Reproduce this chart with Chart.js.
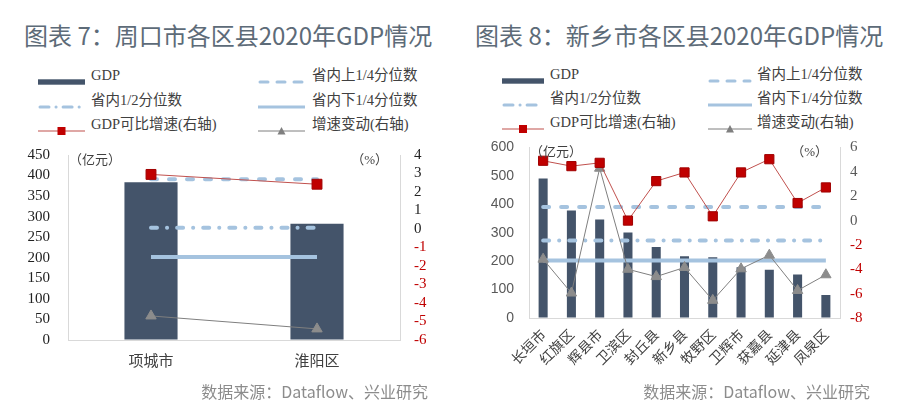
<!DOCTYPE html>
<html lang="zh">
<head>
<meta charset="UTF-8">
<title>GDP情况</title>
<script src="https://cdn.jsdelivr.net/npm/chart.js@4.4.0/dist/chart.umd.min.js"></script>
<style>
  body { margin:0; width:900px; height:413px; background:#fff; position:relative; overflow:hidden;
         font-family:"Noto Sans CJK SC", sans-serif; }
  .title { position:absolute; top:20px; font-size:24px; line-height:30px; color:#5d6b78; white-space:nowrap; }
  .src { position:absolute; top:381px; font-size:16px; line-height:20px; color:#8c8c8c; white-space:nowrap; }
  .leg { position:absolute; height:20px; line-height:20px; white-space:nowrap;
         font-family:"Liberation Serif", "Noto Sans CJK SC", serif; font-size:14.5px; color:#404040; }
  .sym { position:absolute; }
  canvas { position:absolute; }
</style>
</head>
<body>
<div class="title" style="left:24px">图表 7：周口市各区县2020年GDP情况</div>
<div class="title" style="left:475px">图表 8：新乡市各区县2020年GDP情况</div>
<div id="legends"></div>
<canvas id="zk" width="450" height="240" style="left:0;top:145px"></canvas>
<canvas id="xx" width="450" height="250" style="left:450px;top:140px"></canvas>
<div class="src" style="right:472px">数据来源：Dataflow、兴业研究</div>
<div class="src" style="right:30px">数据来源：Dataflow、兴业研究</div>
<script>
// 周口市
const zkCats = ['项城市', '淮阳区'];
const zkGdp = [384, 283];
const zkGrowth = [2.95, 2.42];
const zkChange = [-4.7, -5.4];

// 新乡市
const xxCats = ['长垣市', '红旗区', '辉县市', '卫滨区', '封丘县', '新乡县', '牧野区', '卫辉市', '获嘉县', '延津县', '凤泉区'];
const xxGdp = [491, 378, 347, 301, 250, 217, 214, 179, 170, 153, 81];
const xxGrowth = [4.91, 4.47, 4.74, 0.0, 3.24, 3.95, 0.35, 3.95, 5.04, 1.44, 2.72];
const xxChange = [-3.17, -5.95, 4.3, -4.0, -4.6, -3.85, -6.55, -3.96, -2.84, -5.74, -4.45];

// 省内分位数（亿元）
const qUpper = 391;
const qMedian = 273;
const qLower = 202;

const legendItems = [
  ['bar', 'GDP'], ['upper', '省内上1/4分位数'],
  ['median', '省内1/2分位数'], ['lower', '省内下1/4分位数'],
  ['growth', 'GDP可比增速(右轴)'], ['change', '增速变动(右轴)']
];

const BAR = '#44546a', QCOL = '#a5c3df', RED = '#c00000', GRAY = '#8c8c8c';

function symbolSvg(kind, w) {
  const h = 12, m = h / 2;
  let s = '';
  if (kind == 'bar') s = `<rect x="0" y="${m-2.7}" width="${w}" height="5.4" fill="${BAR}"/>`;
  if (kind == 'upper') s = `<line x1="2" y1="${m}" x2="${w-2}" y2="${m}" stroke="${QCOL}" stroke-width="3" stroke-linecap="round" stroke-dasharray="8 9"/>`;
  if (kind == 'median') s = `<line x1="2" y1="${m}" x2="${w-2}" y2="${m}" stroke="${QCOL}" stroke-width="3" stroke-linecap="round" stroke-dasharray="9 7 0.1 7"/>`;
  if (kind == 'lower') s = `<line x1="0" y1="${m}" x2="${w}" y2="${m}" stroke="${QCOL}" stroke-width="3"/>`;
  if (kind == 'growth') s = `<line x1="0" y1="${m}" x2="${w}" y2="${m}" stroke="#c0504d" stroke-width="1.2"/>` +
    `<rect x="${w/2-4}" y="${m-4}" width="8" height="8" fill="${RED}"/>`;
  if (kind == 'change') s = `<line x1="0" y1="${m}" x2="${w}" y2="${m}" stroke="#7f7f7f" stroke-width="1"/>` +
    `<polygon points="${w/2-4},${m+3.5} ${w/2+4},${m+3.5} ${w/2},${m-4}" fill="#7f7f7f"/>`;
  return `<svg width="${w}" height="${h}">${s}</svg>`;
}

function makeLegend(cols, rows) {
  let html = '';
  legendItems.forEach((it, i) => {
    const c = cols[i % 2], y = rows[Math.floor(i / 2)];
    html += `<div class="sym" style="left:${c.sx}px;top:${y-6}px">${symbolSvg(it[0], c.sw)}</div>`;
    html += `<div class="leg" style="left:${c.tx}px;top:${y-10}px">${it[1]}</div>`;
  });
  return html;
}

document.getElementById('legends').innerHTML =
  makeLegend([{sx:38, sw:47, tx:91}, {sx:258, sw:47, tx:312}], [75, 100, 124]) +
  makeLegend([{sx:502, sw:42, tx:550}, {sx:708, sw:44, tx:757}], [74, 98, 122]);

const unitLabels = {
  id: 'unitLabels',
  afterDraw(chart, args, o) {
    const {ctx, chartArea: a} = chart;
    ctx.save();
    ctx.font = '13px "Liberation Serif", "Noto Sans CJK SC", serif';
    ctx.fillStyle = '#404040';
    ctx.textBaseline = 'middle';
    ctx.textAlign = 'left';
    ctx.fillText('（亿元）', a.left + o.dx, a.top + o.dy);
    ctx.textAlign = 'right';
    ctx.fillText('（%）', a.right - o.rdx, a.top + o.dy);
    ctx.restore();
  }
};

// fixed axis boxes so the plot area lands where the picture has it
function fixW(w) {
  return s => { s.width = w; s.paddingTop = 0; s.paddingBottom = 0; };
}

function build(id, c) {
  return new Chart(document.getElementById(id), {
    data: {
      labels: c.cats,
      datasets: [
        { type: 'line', label: 'GDP可比增速(右轴)', data: c.growth, yAxisID: 'y1',
          borderColor: '#c0504d', borderWidth: 1, pointStyle: 'rect', pointRadius: c.sq,
          pointBackgroundColor: RED, pointBorderColor: '#a00000', pointBorderWidth: 1, order: 1 },
        { type: 'line', label: '增速变动(右轴)', data: c.change, yAxisID: 'y1',
          borderColor: '#7f7f7f', borderWidth: 1, pointStyle: 'triangle', pointRadius: 6,
          pointBackgroundColor: GRAY, pointBorderColor: GRAY, order: 2 },
        { type: 'line', label: '省内上1/4分位数', data: c.cats.map(() => qUpper), yAxisID: 'y',
          borderColor: QCOL, borderWidth: 4, borderDash: [6, 12], borderCapStyle: 'round',
          pointRadius: 0, order: 3 },
        { type: 'line', label: '省内1/2分位数', data: c.cats.map(() => qMedian), yAxisID: 'y',
          borderColor: QCOL, borderWidth: 4, borderDash: [6, 10, 0.1, 10], borderCapStyle: 'round',
          pointRadius: 0, order: 4 },
        { type: 'line', label: '省内下1/4分位数', data: c.cats.map(() => qLower), yAxisID: 'y',
          borderColor: QCOL, borderWidth: 4, pointRadius: 0, order: 5 },
        { type: 'bar', label: 'GDP', data: c.gdp, yAxisID: 'y', backgroundColor: BAR,
          barPercentage: 0.32, categoryPercentage: 1, order: 10 }
      ]
    },
    options: {
      responsive: false,
      animation: false,
      layout: { padding: { top: c.top, left: 0, right: 0, bottom: 0 } },
      plugins: { legend: { display: false }, tooltip: { enabled: false }, unitLabels: c.units },
      scales: {
        x: {
          grid: { drawOnChartArea: false, drawTicks: false },
          border: { color: '#d9d9d9' },
          ticks: c.xticks,
          afterFit: s => { s.height = c.xh; }
        },
        y: {
          position: 'left', min: 0, max: c.ymax,
          grid: { drawOnChartArea: false, drawTicks: false },
          border: { color: '#d9d9d9' },
          ticks: { stepSize: c.ystep, autoSkip: false, padding: c.ypad, font: c.yfont, color: c.ycolor },
          afterFit: fixW(c.yw)
        },
        y1: {
          position: 'right', min: c.rmin, max: c.rmax,
          grid: { drawOnChartArea: false, drawTicks: false },
          border: { color: '#d9d9d9' },
          ticks: { stepSize: c.rstep, autoSkip: false, padding: c.rpad,
                   font: { family: '"Liberation Serif", serif', size: 15 },
                   color: t => t.tick.value < 0 ? RED : c.rpos },
          afterFit: fixW(c.rw)
        }
      }
    },
    plugins: [unitLabels]
  });
}

build('zk', {
  cats: zkCats, gdp: zkGdp, growth: zkGrowth, change: zkChange, sq: 7,
  top: 10, xh: 45, yw: 68, rw: 50, ymax: 450, ystep: 50, ypad: 18,
  yfont: { family: '"Liberation Serif", serif', size: 15 }, ycolor: '#222',
  rmin: -6, rmax: 4, rstep: 1, rpad: 14, rpos: '#222',
  xticks: { padding: 11, color: '#404040', font: { family: '"Noto Sans CJK SC", sans-serif', size: 15 } },
  units: { dx: 1, dy: 6, rdx: 12 }
});

build('xx', {
  cats: xxCats, gdp: xxGdp, growth: xxGrowth, change: xxChange, sq: 6.5,
  top: 7, xh: 72, yw: 79, rw: 60, ymax: 600, ystep: 100, ypad: 15,
  yfont: { family: '"Liberation Sans", sans-serif', size: 14 }, ycolor: '#595959',
  rmin: -8, rmax: 6, rstep: 2, rpad: 10, rpos: '#595959',
  xticks: { padding: 8, minRotation: 45, maxRotation: 45, autoSkip: false, color: '#404040',
            font: { family: '"Noto Sans CJK SC", sans-serif', size: 14 } },
  units: { dx: 1, dy: 5, rdx: 12 }
});
</script>
</body>
</html>
